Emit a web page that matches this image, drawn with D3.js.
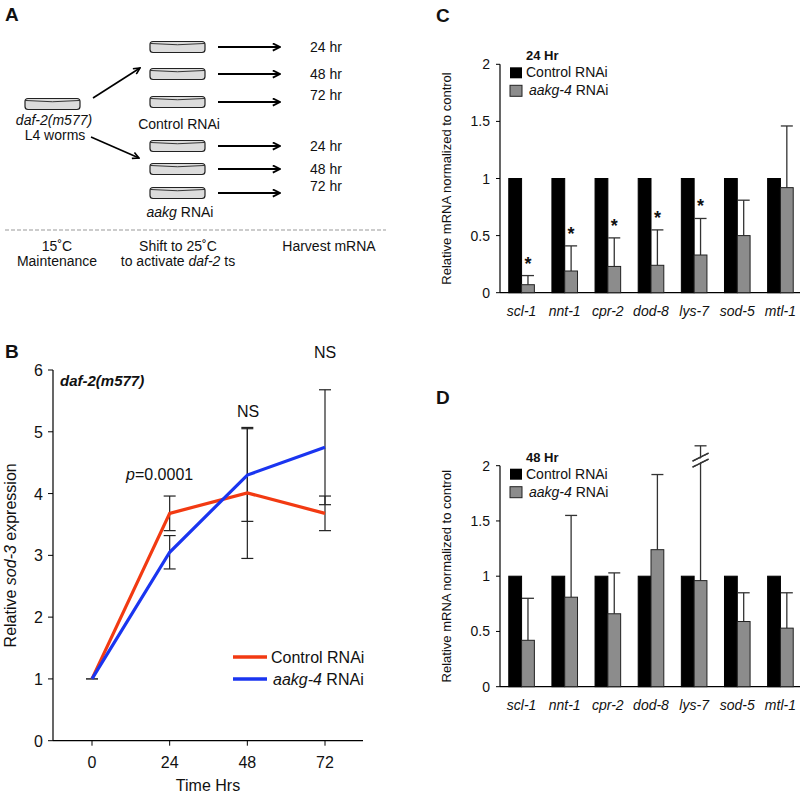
<!DOCTYPE html>
<html><head><meta charset="utf-8">
<script src="https://cdn.jsdelivr.net/npm/d3@7"></script>
<style>body{margin:0;background:#fff}text{font-family:"Liberation Sans",Arial,sans-serif;fill:#111}</style>
</head><body><svg id="c" width="806" height="800"></svg>
<script>
// ---- Data ----
const timeTicks = [0, 24, 48, 72];
const controlSod3 = [1, 3.68, 4.01, 3.68];
const controlSod3Err = [0, 0.28, 1.06, 0.28];
const aakgSod3 = [1, 3.05, 4.30, 4.75];
const aakgSod3Err = [0, 0.27, 0.75, 0.93];
const genes = ["scl-1","nnt-1","cpr-2","dod-8","lys-7","sod-5","mtl-1"];
const control24 = [1,1,1,1,1,1,1];
const aakg24 = [0.07,0.19,0.23,0.24,0.33,0.50,0.92];
const aakg24ErrTop = [0.15,0.41,0.48,0.55,0.65,0.81,1.46];
const sig24 = [true,true,true,true,true,false,false];
const control48 = [1,1,1,1,1,1,1];
const aakg48 = [0.42,0.81,0.66,1.24,0.96,0.59,0.53];
const aakg48ErrTop = [0.80,1.55,1.03,1.92,2.18,0.85,0.85];
const barTicks = [0,0.5,1,1.5,2];
const hours = ["24 hr","48 hr","72 hr"];

const svg = d3.select("#c");
function txt(g,x,y,s,o={}){const t=g.append("text").attr("x",x).attr("y",y).attr("font-size",o.size||14)
 .attr("text-anchor",o.anchor||"start");if(o.bold)t.attr("font-weight","bold");if(o.italic)t.attr("font-style","italic");
 if(o.html)t.html(s);else t.text(s);return t;}

// ---- Panel labels ----
txt(svg,5,21,"A",{size:19,bold:true});
txt(svg,5,358,"B",{size:19,bold:true});
txt(svg,436,22,"C",{size:19,bold:true});
txt(svg,436,404,"D",{size:19,bold:true});

// ---- Panel A ----
const defs=svg.append("defs");
defs.append("marker").attr("id","ah").attr("viewBox","0 0 10 10").attr("refX",9).attr("refY",5)
 .attr("markerWidth",5).attr("markerHeight",5).attr("orient","auto")
 .append("path").attr("d","M1,1 L9,5 L1,9").attr("fill","none").attr("stroke","#000").attr("stroke-width",2);
function plate(x,y){ // x left, y center
 const w=55,h=11;
 svg.append("rect").attr("x",x).attr("y",y-h/2).attr("width",w).attr("height",h).attr("rx",3)
  .attr("fill","#dcdcdc").attr("stroke","#222").attr("stroke-width",1.2);
 svg.append("path").attr("d",`M${x+1},${y-h/2+2} Q${x+w/2},${y-h/2+4.5} ${x+w-1},${y-h/2+2}`).attr("fill","none").attr("stroke","#222").attr("stroke-width",0.9);
}
plate(25,104);
const ctrlY=[47,74,102], aakgY=[146,169,193];
[...ctrlY,...aakgY].forEach((y,i)=>{
 plate(150,y);
 svg.append("line").attr("x1",218).attr("x2",280).attr("y1",y).attr("y2",y).attr("stroke","#000").attr("stroke-width",1.8).attr("marker-end","url(#ah)");
 txt(svg,310,y+(i%3==2?-2:5),hours[i%3],{size:14});
});
svg.append("line").attr("x1",93).attr("y1",98).attr("x2",140).attr("y2",68).attr("stroke","#000").attr("stroke-width",1.6).attr("marker-end","url(#ah)");
svg.append("line").attr("x1",91).attr("y1",137).attr("x2",139).attr("y2",158).attr("stroke","#000").attr("stroke-width",1.6).attr("marker-end","url(#ah)");
txt(svg,54,125,"daf-2(m577)",{size:14,anchor:"middle",italic:true});
txt(svg,55,140,"L4 worms",{size:14,anchor:"middle"});
txt(svg,179,129,"Control RNAi",{size:14,anchor:"middle"});
txt(svg,180,217,'<tspan font-style="italic">aakg</tspan> RNAi',{size:14,anchor:"middle",html:true});
svg.append("line").attr("x1",5).attr("x2",386).attr("y1",230).attr("y2",230).attr("stroke","#999").attr("stroke-width",1.2).attr("stroke-dasharray","4,2");
txt(svg,57,251,"15˚C",{size:14,anchor:"middle"});
txt(svg,57,266,"Maintenance",{size:14,anchor:"middle"});
txt(svg,178,251,"Shift to 25˚C",{size:14,anchor:"middle"});
txt(svg,178,266,'to activate <tspan font-style="italic">daf-2</tspan> ts',{size:14,anchor:"middle",html:true});
txt(svg,329,251,"Harvest mRNA",{size:14,anchor:"middle"});

// ---- Panel B ----
{
 const g=svg.append("g");
 const x=d3.scaleLinear().domain([0,72]).range([92,325]);
 const y=d3.scaleLinear().domain([0,6]).range([740.7,370]);
 g.append("line").attr("x1",53).attr("x2",363).attr("y1",y(0)).attr("y2",y(0)).attr("stroke","#000").attr("stroke-width",1.2);
 g.append("line").attr("x1",53).attr("x2",53).attr("y1",y(0)).attr("y2",y(6)).attr("stroke","#000").attr("stroke-width",1.2);
 d3.range(0,7).forEach(v=>{g.append("line").attr("x1",48).attr("x2",53).attr("y1",y(v)).attr("y2",y(v)).attr("stroke","#000");
  txt(g,43,y(v)+6,v,{size:16,anchor:"end"});});
 timeTicks.forEach(v=>{g.append("line").attr("x1",x(v)).attr("x2",x(v)).attr("y1",y(0)).attr("y2",y(0)+5).attr("stroke","#000");
  txt(g,x(v),y(0)+27,v,{size:16,anchor:"middle"});});
 txt(g,208,791,"Time Hrs",{size:16,anchor:"middle"});
 txt(g,0,0,'Relative <tspan font-style="italic">sod-3</tspan> expression',{size:16,anchor:"middle",html:true})
  .attr("transform",`translate(16,${y(3)}) rotate(-90)`);
 txt(g,60,386,"daf-2(m577)",{size:15,bold:true,italic:true});
 function eb(vals,errs){vals.forEach((v,i)=>{if(!errs[i])return;const cx=x(timeTicks[i]);
  g.append("line").attr("x1",cx).attr("x2",cx).attr("y1",y(v-errs[i])).attr("y2",y(v+errs[i])).attr("stroke","#222").attr("stroke-width",1.2);
  [v-errs[i],v+errs[i]].forEach(e=>g.append("line").attr("x1",cx-6).attr("x2",cx+6).attr("y1",y(e)).attr("y2",y(e)).attr("stroke","#222").attr("stroke-width",1.2));});
  g.append("line").attr("x1",x(0)-6).attr("x2",x(0)+6).attr("y1",y(1)).attr("y2",y(1)).attr("stroke","#222");}
 eb(controlSod3,controlSod3Err); eb(aakgSod3,aakgSod3Err);
 const line=d3.line().x((d,i)=>x(timeTicks[i])).y(d=>y(d));
 g.append("path").datum(controlSod3).attr("d",line).attr("fill","none").attr("stroke","#f23a12").attr("stroke-width",3.2);
 g.append("path").datum(aakgSod3).attr("d",line).attr("fill","none").attr("stroke","#1a35f0").attr("stroke-width",3.2);
 txt(g,126,480,'<tspan font-style="italic">p</tspan>=0.0001',{size:16,html:true});
 txt(g,248,417,"NS",{size:16,anchor:"middle"});
 txt(g,325,358,"NS",{size:16,anchor:"middle"});
 g.append("line").attr("x1",233).attr("x2",267).attr("y1",657).attr("y2",657).attr("stroke","#f23a12").attr("stroke-width",3.5);
 g.append("line").attr("x1",233).attr("x2",267).attr("y1",679).attr("y2",679).attr("stroke","#1a35f0").attr("stroke-width",3.5);
 txt(g,271,663,"Control RNAi",{size:16});
 txt(g,273,685,'<tspan font-style="italic">aakg-4</tspan> RNAi',{size:16,html:true});
}

// ---- Panels C and D ----
function barPanel(y0,y2,ctrl,aakg,errTop,title,sig,broken){
 const g=svg.append("g");
 const x=d3.scaleBand().domain(genes).range([500,802]);
 const y=d3.scaleLinear().domain([0,2]).range([y0,y2]);
 const bw=12.8;
 g.append("line").attr("x1",500).attr("x2",800).attr("y1",y(0)).attr("y2",y(0)).attr("stroke","#000").attr("stroke-width",1.2);
 g.append("line").attr("x1",500).attr("x2",500).attr("y1",y(0)).attr("y2",y(2)).attr("stroke","#000").attr("stroke-width",1.2);
 barTicks.forEach(v=>{g.append("line").attr("x1",496).attr("x2",500).attr("y1",y(v)).attr("y2",y(v)).attr("stroke","#000");
  txt(g,490,y(v)+5,v,{size:14,anchor:"end"});});
 txt(g,0,0,"Relative mRNA normalized to control",{size:13,anchor:"middle"})
  .attr("transform",`translate(451,${(y(0)+y(2))/2}) rotate(-90)`);
 genes.forEach((gn,i)=>{const c=x(gn)+x.bandwidth()/2;
  txt(g,c,y(0)+23,gn,{size:14,anchor:"middle",italic:true});
  g.append("rect").attr("x",c-bw).attr("y",y(ctrl[i])).attr("width",bw).attr("height",y(0)-y(ctrl[i])).attr("fill","#000").attr("stroke","#000");
  const gx=c+bw/2;
  g.append("line").attr("x1",gx).attr("x2",gx).attr("y1",y(aakg[i])).attr("y2",y(errTop[i])).attr("stroke","#333").attr("stroke-width",1.3);
  g.append("line").attr("x1",gx-6).attr("x2",gx+6).attr("y1",y(errTop[i])).attr("y2",y(errTop[i])).attr("stroke","#333").attr("stroke-width",1.3);
  g.append("rect").attr("x",c).attr("y",y(aakg[i])).attr("width",bw).attr("height",y(0)-y(aakg[i])).attr("fill","#8c8c8c").attr("stroke","#222");
  if(sig&&sig[i]) txt(g,gx,y(errTop[i])-6,"*",{size:18,anchor:"middle",bold:true});
  if(broken&&broken[i]){const by=y(2.05);
   [-3,3].forEach(o=>g.append("line").attr("x1",gx-8).attr("x2",gx+8).attr("y1",by+o+4).attr("y2",by+o-4).attr("stroke","#333").attr("stroke-width",1.3));
   g.append("line").attr("x1",gx-5).attr("x2",gx+5).attr("y1",by+3.5).attr("y2",by-3.5).attr("stroke","#fff").attr("stroke-width",3);
   [-3,3].forEach(o=>g.append("line").attr("x1",gx-8).attr("x2",gx+8).attr("y1",by+o+4).attr("y2",by+o-4).attr("stroke","#333").attr("stroke-width",1.3));}
 });
 const ly=y(2);
 txt(g,526,ly-4,title,{size:13,bold:true});
 g.append("rect").attr("x",510).attr("y",ly+3).attr("width",12).attr("height",11).attr("fill","#000");
 txt(g,526,ly+13,"Control RNAi",{size:14});
 g.append("rect").attr("x",510).attr("y",ly+21).attr("width",12).attr("height",11).attr("fill","#8c8c8c").attr("stroke","#222");
 txt(g,529,ly+31,'<tspan font-style="italic">aakg-4</tspan> RNAi',{size:14,html:true});
}
barPanel(292.7,64.3,control24,aakg24,aakg24ErrTop,"24 Hr",sig24,null);
barPanel(686.7,465.7,control48,aakg48,aakg48ErrTop,"48 Hr",null,[false,false,false,false,true,false,false]);
</script></body></html>
